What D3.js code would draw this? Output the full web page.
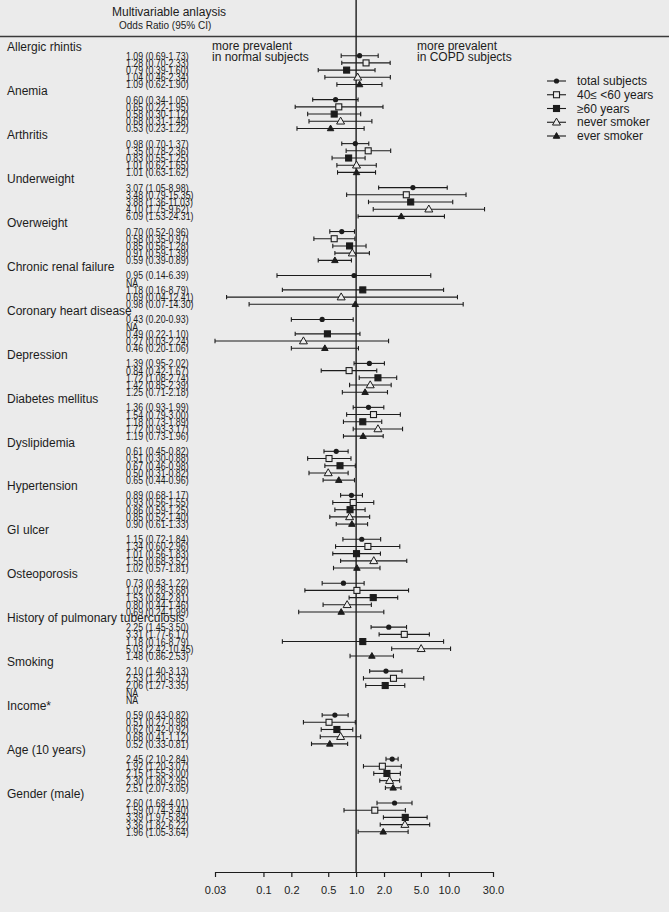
<!DOCTYPE html>
<html>
<head>
<meta charset="utf-8">
<script src="https://cdn.jsdelivr.net/npm/d3@7"></script>
<style>
  body { margin: 0; background: #ebebeb; }
  svg { display: block; font-family: "Liberation Sans", Arial, sans-serif; }
</style>
</head>
<body>
<script>
// groups (rows) and series (5 per group)
var groups = ["Allergic rhintis", "Anemia", "Arthritis", "Underweight", "Overweight",
  "Chronic renal failure", "Coronary heart disease", "Depression", "Diabetes mellitus",
  "Dyslipidemia", "Hypertension", "GI ulcer", "Osteoporosis",
  "History of pulmonary tuberculosis", "Smoking", "Income*", "Age (10 years)", "Gender (male)"];

var series = ["total subjects", "40\u2264 <60 years", "\u226560 years", "never smoker", "ever smoker"];

// odds ratios as plotted (null = NA)
var orVals = [
  [1.09, 1.28, 0.79, 1.04, 1.09],
  [0.60, 0.65, 0.58, 0.68, 0.53],
  [0.98, 1.35, 0.83, 1.01, 1.01],
  [4.10, 3.48, 3.88, 6.09, 3.07],
  [0.70, 0.58, 0.85, 0.91, 0.59],
  [0.95, null, 1.18, 0.69, 0.98],
  [0.43, null, 0.49, 0.27, 0.46],
  [1.39, 0.84, 1.72, 1.42, 1.25],
  [1.36, 1.54, 1.18, 1.72, 1.19],
  [0.61, 0.51, 0.67, 0.50, 0.65],
  [0.89, 0.93, 0.86, 0.85, 0.90],
  [1.15, 1.34, 1.01, 1.55, 1.02],
  [0.73, 1.02, 1.53, 0.80, 0.69],
  [2.25, 3.31, 1.18, 5.03, 1.48],
  [2.10, 2.53, 2.06, null, null],
  [0.59, 0.51, 0.62, 0.68, 0.52],
  [2.45, 1.92, 2.15, 2.30, 2.51],
  [2.60, 1.59, 3.39, 3.36, 1.96]
];
var loVals = [
  [0.69, 0.70, 0.39, 0.46, 0.62],
  [0.34, 0.22, 0.30, 0.31, 0.23],
  [0.70, 0.78, 0.55, 0.62, 0.63],
  [1.75, 0.79, 1.36, 1.53, 1.05],
  [0.52, 0.35, 0.56, 0.59, 0.39],
  [0.14, null, 0.16, 0.04, 0.07],
  [0.20, null, 0.22, 0.03, 0.20],
  [0.95, 0.42, 1.08, 0.85, 0.71],
  [0.93, 0.79, 0.73, 0.93, 0.73],
  [0.45, 0.30, 0.46, 0.31, 0.44],
  [0.68, 0.56, 0.59, 0.52, 0.61],
  [0.72, 0.60, 0.56, 0.68, 0.57],
  [0.43, 0.28, 0.84, 0.44, 0.24],
  [1.45, 1.77, 0.16, 2.42, 0.86],
  [1.40, 1.20, 1.27, null, null],
  [0.43, 0.27, 0.42, 0.41, 0.33],
  [2.10, 1.20, 1.55, 1.80, 2.07],
  [1.68, 0.74, 1.97, 1.82, 1.05]
];
var hiVals = [
  [1.73, 2.33, 1.60, 2.34, 1.90],
  [1.05, 1.95, 1.12, 1.48, 1.22],
  [1.37, 2.36, 1.25, 1.65, 1.62],
  [9.62, 15.35, 11.03, 24.31, 8.98],
  [0.96, 0.97, 1.28, 1.39, 0.89],
  [6.39, null, 8.79, 12.41, 14.30],
  [0.93, null, 1.10, 2.24, 1.06],
  [2.02, 1.67, 2.74, 2.39, 2.18],
  [1.99, 3.00, 1.89, 3.17, 1.96],
  [0.82, 0.88, 0.98, 0.82, 0.96],
  [1.17, 1.55, 1.25, 1.40, 1.33],
  [1.84, 2.96, 1.83, 3.52, 1.81],
  [1.22, 3.68, 2.81, 1.46, 1.99],
  [3.50, 6.17, 8.79, 10.45, 2.53],
  [3.13, 5.37, 3.35, null, null],
  [0.82, 0.98, 0.92, 1.12, 0.81],
  [2.84, 3.07, 3.00, 2.95, 3.05],
  [4.01, 3.40, 5.84, 6.22, 3.64]
];

// printed column (as in the figure; Underweight is printed in a different order)
var ciText = [
  ["1.09 (0.69-1.73)", "1.28 (0.70-2.33)", "0.79 (0.39-1.60)", "1.04 (0.46-2.34)", "1.09 (0.62-1.90)"],
  ["0.60 (0.34-1.05)", "0.65 (0.22-1.95)", "0.58 (0.30-1.12)", "0.68 (0.31-1.48)", "0.53 (0.23-1.22)"],
  ["0.98 (0.70-1.37)", "1.35 (0.78-2.36)", "0.83 (0.55-1.25)", "1.01 (0.62-1.65)", "1.01 (0.63-1.62)"],
  ["3.07 (1.05-8.98)", "3.48 (0.79-15.35)", "3.88 (1.36-11.03)", "4.10 (1.75-9.62)", "6.09 (1.53-24.31)"],
  ["0.70 (0.52-0.96)", "0.58 (0.35-0.97)", "0.85 (0.56-1.28)", "0.91 (0.59-1.39)", "0.59 (0.39-0.89)"],
  ["0.95 (0.14-6.39)", "NA", "1.18 (0.16-8.79)", "0.69 (0.04-12.41)", "0.98 (0.07-14.30)"],
  ["0.43 (0.20-0.93)", "NA", "0.49 (0.22-1.10)", "0.27 (0.03-2.24)", "0.46 (0.20-1.06)"],
  ["1.39 (0.95-2.02)", "0.84 (0.42-1.67)", "1.72 (1.08-2.74)", "1.42 (0.85-2.39)", "1.25 (0.71-2.18)"],
  ["1.36 (0.93-1.99)", "1.54 (0.79-3.00)", "1.18 (0.73-1.89)", "1.72 (0.93-3.17)", "1.19 (0.73-1.96)"],
  ["0.61 (0.45-0.82)", "0.51 (0.30-0.88)", "0.67 (0.46-0.98)", "0.50 (0.31-0.82)", "0.65 (0.44-0.96)"],
  ["0.89 (0.68-1.17)", "0.93 (0.56-1.55)", "0.86 (0.59-1.25)", "0.85 (0.52-1.40)", "0.90 (0.61-1.33)"],
  ["1.15 (0.72-1.84)", "1.34 (0.60-2.96)", "1.01 (0.56-1.83)", "1.55 (0.68-3.52)", "1.02 (0.57-1.81)"],
  ["0.73 (0.43-1.22)", "1.02 (0.28-3.68)", "1.53 (0.84-2.81)", "0.80 (0.44-1.46)", "0.69 (0.24-1.99)"],
  ["2.25 (1.45-3.50)", "3.31 (1.77-6.17)", "1.18 (0.16-8.79)", "5.03 (2.42-10.45)", "1.48 (0.86-2.53)"],
  ["2.10 (1.40-3.13)", "2.53 (1.20-5.37)", "2.06 (1.27-3.35)", "NA", "NA"],
  ["0.59 (0.43-0.82)", "0.51 (0.27-0.98)", "0.62 (0.42-0.92)", "0.68 (0.41-1.12)", "0.52 (0.33-0.81)"],
  ["2.45 (2.10-2.84)", "1.92 (1.20-3.07)", "2.15 (1.55-3.00)", "2.30 (1.80-2.95)", "2.51 (2.07-3.05)"],
  ["2.60 (1.68-4.01)", "1.59 (0.74-3.40)", "3.39 (1.97-5.84)", "3.36 (1.82-6.22)", "1.96 (1.05-3.64)"]
];

var tickVals = [0.03, 0.1, 0.2, 0.5, 1, 2, 5, 10, 30];

var width = 669, height = 912;
var ink = "#1c1c1c";
var bg = "#ebebeb";

var svg = d3.select("body").append("svg")
    .attr("width", width)
    .attr("height", height);

svg.append("rect").attr("width", width).attr("height", height).attr("fill", bg);

var x = d3.scaleLog().domain([0.03, 30]).range([215, 493]);
var gy = d3.scaleLinear().domain([0, groups.length - 1]).range([55.7, 803]);
var rowStep = 7.2;
var axisY = 872;

function rowY(g, j) { return gy(g) + j * rowStep; }

// header
svg.append("text").attr("x", 112).attr("y", 12).attr("dy", "0.35em")
    .attr("font-size", 12).attr("fill", ink).text("Multivariable anlaysis");
svg.append("text").attr("x", 119).attr("y", 25).attr("dy", "0.35em")
    .attr("font-size", 10).attr("fill", ink).text("Odds Ratio (95% CI)");
svg.append("line").attr("x1", 0).attr("x2", width).attr("y1", 36.5).attr("y2", 36.5)
    .attr("stroke", "#3a3a3a").attr("stroke-width", 1.5);

// reference line at OR = 1
svg.append("line").attr("x1", x(1)).attr("x2", x(1)).attr("y1", 0).attr("y2", axisY)
    .attr("stroke", ink).attr("stroke-width", 1.4);

// direction notes
var notes = [
  {x: 212, lines: ["more prevalent", "in normal subjects"]},
  {x: 417, lines: ["more prevalent", "in COPD subjects"]}
];
notes.forEach(function(n) {
  n.lines.forEach(function(t, i) {
    svg.append("text").attr("x", n.x).attr("y", 46 + i * 11).attr("dy", "0.35em")
        .attr("font-size", 12).attr("fill", ink).text(t);
  });
});

// group labels and printed values
var labelG = svg.append("g");
groups.forEach(function(name, g) {
  labelG.append("text").attr("x", 7).attr("y", gy(g) - 9).attr("dy", "0.35em")
      .attr("font-size", 12).attr("fill", ink).text(name);
  ciText[g].forEach(function(t, j) {
    labelG.append("text")
        .attr("transform", "translate(126," + rowY(g, j) + ") scale(0.8,1)")
        .attr("dy", "0.36em")
        .attr("font-size", 11).attr("fill", ink).text(t);
  });
});

// markers
function drawSymbol(sel, k, cx, cy) {
  if (k === 0) {
    sel.append("circle").attr("cx", cx).attr("cy", cy).attr("r", 2.6).attr("fill", ink);
  } else if (k === 1 || k === 2) {
    sel.append("rect").attr("x", cx - 3).attr("y", cy - 3).attr("width", 6).attr("height", 6)
        .attr("fill", k === 1 ? bg : ink).attr("stroke", ink).attr("stroke-width", 1.1);
  } else {
    var s = k === 3 ? 8 : 6.5;
    var h = s * 0.87;
    var pts = [[cx, cy - h * 0.6], [cx - s / 2, cy + h * 0.4], [cx + s / 2, cy + h * 0.4]];
    sel.append("polygon").attr("points", pts.map(function(p) { return p.join(","); }).join(" "))
        .attr("fill", k === 3 ? bg : ink).attr("stroke", ink).attr("stroke-width", 1);
  }
}

var plotG = svg.append("g");
groups.forEach(function(name, g) {
  for (var j = 0; j < series.length; j++) {
    if (orVals[g][j] == null) continue;
    var cy = rowY(g, j);
    var x0 = x(loVals[g][j]), x1 = x(hiVals[g][j]);
    plotG.append("line").attr("x1", x0).attr("x2", x1).attr("y1", cy).attr("y2", cy)
        .attr("stroke", ink).attr("stroke-width", 1.1);
    [x0, x1].forEach(function(xx) {
      plotG.append("line").attr("x1", xx).attr("x2", xx).attr("y1", cy - 2.2).attr("y2", cy + 2.2)
          .attr("stroke", ink).attr("stroke-width", 1.1);
    });
    drawSymbol(plotG, j, x(orVals[g][j]), cy);
  }
});

// legend
var legend = svg.append("g");
series.forEach(function(s, k) {
  var ly = 81 + k * 13.75;
  legend.append("line").attr("x1", 547).attr("x2", 566).attr("y1", ly).attr("y2", ly)
      .attr("stroke", ink).attr("stroke-width", 1.1);
  drawSymbol(legend, k, 556.5, ly);
  legend.append("text").attr("x", 577).attr("y", ly).attr("dy", "0.35em")
      .attr("font-size", 12).attr("fill", ink).text(s);
});

// x axis
var xAxis = d3.axisBottom(x)
    .tickValues(tickVals)
    .tickSize(5)
    .tickSizeOuter(0)
    .tickFormat(function(d) { return d < 1 ? String(d) : d.toFixed(1); });

var axisG = svg.append("g")
    .attr("transform", "translate(0," + axisY + ")")
    .call(xAxis);
axisG.select(".domain").attr("stroke", ink).attr("stroke-width", 1.2);
axisG.selectAll(".tick line").attr("stroke", ink).attr("stroke-width", 1.2);
axisG.selectAll(".tick text")
    .attr("y", 18).attr("dy", "0.35em")
    .attr("font-size", 11)
    .attr("font-family", "Liberation Sans, Arial, sans-serif")
    .attr("fill", ink);
</script>
</body>
</html>
